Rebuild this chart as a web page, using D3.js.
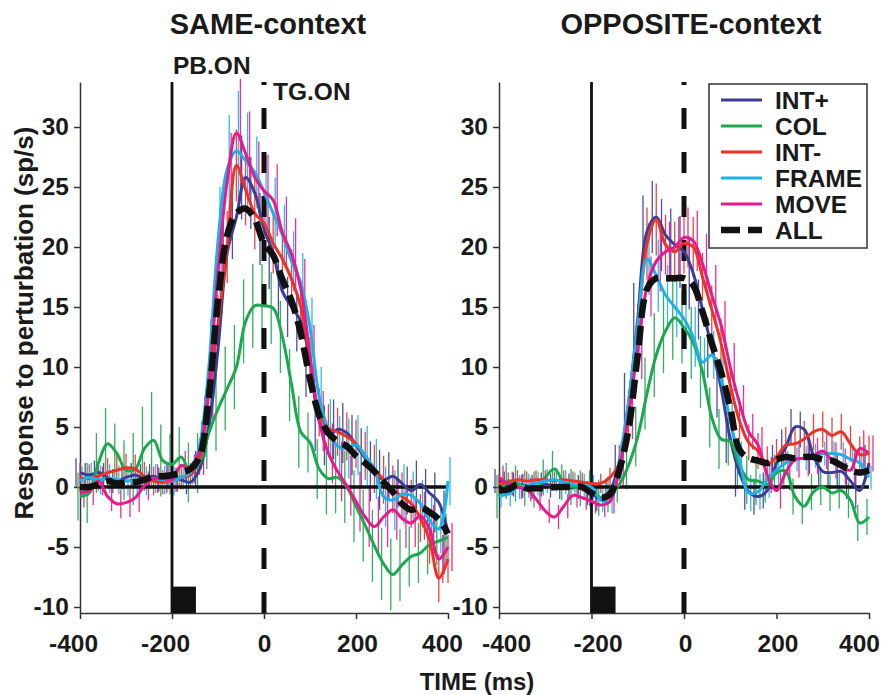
<!DOCTYPE html>
<html><head><meta charset="utf-8">
<script src="https://cdn.jsdelivr.net/npm/d3@7/dist/d3.min.js"></script>
<style>
body{margin:0;background:#fff;}
svg{display:block;font-family:"Liberation Sans",Arial,Helvetica,sans-serif;font-weight:bold;}
</style>
</head><body>
<svg id="chart" width="885" height="695"></svg>
<script>
// ---------- DATA ----------
const timeMs = [-400,-380,-360,-340,-320,-300,-280,-260,-240,-220,-200,-180,-160,-140,-120,-100,-80,-60,-40,-20,0,20,40,60,80,100,120,140,160,180,200,220,240,260,280,300,320,340,360,380,400];
const seriesNames = ["INT+","COL","INT-","FRAME","MOVE","ALL"];
const seriesColors = ["#3b3c98","#1ba84e","#ec3127","#1cb2e8","#e8198c","#111111"];
const panelTitles = ["SAME-context","OPPOSITE-context"];
const xTickValues = [-400,-200,0,200,400];
const yTickValues = [-10,-5,0,5,10,15,20,25,30];
const eventLabels = ["PB.ON","TG.ON"];
const axisTitleX = "TIME (ms)";
const axisTitleY = "Response to perturbation (sp/s)";
const stimulusBar = {start:-200, end:-148, top:-8.3};

// SAME-context
const sameIntPlus = [1.2,1.0,1.2,0.8,0.5,0.8,1.0,0.7,0.9,0.6,0.8,0.6,0.4,1.5,5,11.5,19.5,22.5,25.8,24.5,21.5,19.5,16.3,15,13.8,10.5,5.5,4.3,4.8,4.5,3.5,2.4,1.3,0.6,0.9,0.3,-0.3,0.2,-0.5,-1.3,-3.8];
const sameCol     = [-0.8,-0.5,2,3.6,2.8,1.4,1.5,3.2,3.9,2.2,1.9,2.5,1.2,2,4.5,6.5,8.2,10,13.8,15.1,15.1,14.9,12.5,8.5,4.6,3.7,1.5,0.7,0.8,0,-1.6,-3.2,-4.9,-6.4,-7.3,-6.5,-5.8,-5.5,-4.8,-4.5,-4.2];
const sameIntMinus= [0.8,0.7,0.9,1.2,1.4,1.6,1.5,0.9,0.5,0.4,0.5,0.8,1.0,2.5,8,13.5,20,26.8,24.8,22.8,22,20.3,19,17.3,15,10.5,6.2,4.9,4.6,4.2,3.6,2.6,1.5,0.6,-0.2,-0.8,-1.4,-2.6,-4.4,-7.6,-6];
const sameFrame   = [0.5,0.8,0.6,0.7,0.6,0.5,0.6,0.5,0.7,0.6,0.5,0.8,1.2,3.5,10,20.5,26.5,28,27.2,26.2,24.6,22.8,21,18.8,17,13.3,7.5,4.8,3.4,3.2,3.5,2.6,1.5,-0.8,-1.1,-0.6,-0.7,-1.4,-2.8,-3.5,0.5];
const sameMove    = [-0.5,-0.3,0.5,-0.8,-1.4,-1.3,-0.9,0.1,0.7,0.7,0.6,1.8,1.5,3,8.5,18,25.5,29.5,27.8,25.8,24.7,23.9,21.2,19.4,16.5,11,5.5,2.8,1.3,0.1,-1.2,-2.5,-3.3,-2.5,-1.9,-2.6,-3.0,-2.4,-3.5,-6,-5];
const sameAll     = [0,0,0.2,0.5,0.3,0.4,0.4,0.6,0.9,0.9,1.0,1.2,1.5,2.5,7.5,15.5,21,22.8,23.2,22.3,20.3,19.3,17.3,15.5,12.8,9,6,4.5,3.8,3.4,2.6,2,1.3,0.4,-0.4,-1.4,-1.9,-1.7,-2.1,-2.7,-3.9];

const sameErrIntPlus = [1.2,1.0,1.0,1.2,1.0,1.0,1.0,1.2,1.0,1.0,1.0,1.0,1.0,1.5,2.5,3.5,3.5,3.5,3.5,3.0,3.0,3.0,2.5,2.5,2.5,3.0,2.5,2.5,2.5,2.5,2.5,2.5,2.5,2.5,2.0,2.0,2.0,2.0,2.0,2.5,3.5];
const sameErrCol     = [2.0,2.5,2.5,3.0,2.5,2.5,3.0,3.5,4.0,3.0,2.5,2.5,2.5,2.5,3.0,3.5,3.5,3.5,3.5,3.5,3.5,3.0,3.0,3.0,3.0,2.5,2.5,3.0,3.0,3.0,3.0,3.0,3.0,3.0,3.0,3.0,2.5,2.5,2.5,2.0,2.0];
const sameErrIntMinus= [1.2,1.2,1.2,1.2,1.5,1.2,1.2,1.2,1.2,1.0,1.0,1.0,1.0,1.5,2.0,2.5,3.0,3.0,3.0,3.0,2.5,2.5,2.5,2.5,2.0,2.0,2.0,2.0,2.0,2.0,2.0,2.0,2.0,2.0,2.0,2.0,2.0,2.0,2.0,2.0,2.0];
const sameErrFrame   = [1.2,1.2,1.2,1.2,1.2,1.2,1.2,1.2,1.2,1.2,1.2,1.0,1.0,2.0,4.0,4.5,4.5,5.0,4.0,3.0,3.0,3.0,2.5,2.5,2.5,2.5,2.5,2.5,2.5,2.5,2.5,2.5,2.5,2.5,2.5,2.5,2.0,2.0,2.0,2.0,2.0];
const sameErrMove    = [1.2,1.2,1.2,1.2,1.2,1.2,1.2,1.2,1.2,1.2,1.0,1.2,1.2,2.0,3.0,3.5,4.0,4.5,3.5,3.0,3.0,3.0,3.0,3.0,2.5,2.5,2.5,2.5,2.5,2.5,2.5,2.5,2.5,2.5,2.5,2.5,2.0,2.0,2.0,2.0,2.0];

// OPPOSITE-context
const oppIntPlus  = [0.5,0.3,0.2,0.1,0,0.2,0.1,0,0.1,0,-0.5,-1.0,-0.3,2,7,14,21.3,22.5,21,20.2,19.6,17.8,14.8,11.6,8.3,4,1.2,-0.4,-0.8,-0.3,2,3.3,5,4.8,2.6,1.3,1.2,1.3,0.5,-0.3,2];
const oppCol      = [-0.8,0.5,0.3,-0.1,-0.2,0.8,1.5,0.4,0,-0.1,-0.1,-0.9,-0.6,0.2,1.8,4.2,7.8,11,13,14.1,13.3,12,9.6,5.8,4.0,3.8,1.8,0.6,0.5,0.2,1.2,1.3,-0.8,-1.6,-0.4,0,-0.5,-0.3,-1.1,-3.0,-2.5];
const oppIntMinus = [0.3,0.4,0.6,0.5,0.6,0.6,0.5,0.6,0.5,0.4,0.3,0.3,0.8,2,6,12.8,20.3,22.3,20.2,19.6,20.3,20,17.5,14.8,12,8.5,5.5,3.7,3.0,1.9,2.5,3.5,3.6,4.0,4.6,4.8,4.3,4.6,3.6,2.7,2.8];
const oppFrame    = [-0.7,-0.6,0,0.1,0.3,0.5,0.6,0.4,0.2,0.1,0,-1.1,-1.2,2.2,7,13.5,19,17.6,16,15,14,12.5,10.4,11,9,5.5,2.3,-0.5,-0.4,0.6,1.4,2,2.3,2.4,2.6,2.8,2.8,2.7,2.3,2.0,0.8];
const oppMove     = [0.8,0.3,0,-0.2,-1.0,-2,-2.5,-1.6,-0.7,-0.9,-1.2,-1.5,-1.2,1.5,6,11.5,16.7,18.8,19.6,20,20.8,20.5,18.6,16,13.5,10,7,4.6,3.5,1,-0.3,1.2,2.3,2.4,2.6,3,2.2,1.7,1.4,3.2,2.8];
const oppAll      = [-0.3,-0.2,0.2,-0.1,-0.1,-0.1,0,0,0,0,-0.5,-0.9,-0.6,1.4,4.8,11,16.5,17.4,17.4,17.4,17.4,16.8,14.6,12,9.6,6.6,3.1,2.4,2.2,2.0,2.3,2.5,2.4,2.5,2.5,2.3,2.2,1.8,1.4,1.2,1.4];

const oppErrIntPlus  = [1.0,1.0,1.0,1.0,1.0,1.0,1.0,1.0,1.0,1.0,1.0,1.0,1.0,1.5,2.5,3.0,3.0,3.0,3.0,3.0,3.0,3.0,2.5,2.5,2.5,2.0,2.0,1.5,1.5,1.5,1.5,1.5,1.5,1.5,1.5,1.5,1.5,1.5,1.5,1.5,1.5];
const oppErrCol      = [1.8,1.5,1.5,1.5,1.5,1.5,1.5,1.5,1.5,1.5,1.5,1.5,1.5,1.5,2.0,2.5,3.0,3.5,3.5,3.5,3.0,3.0,3.0,2.5,2.5,2.0,2.0,2.0,2.0,1.5,1.5,1.5,1.5,1.5,1.5,1.5,1.5,1.5,1.5,1.5,1.5];
const oppErrIntMinus = [0.8,0.8,0.8,0.8,0.8,0.8,0.8,0.8,0.8,0.8,0.8,0.8,0.8,1.5,2.0,2.5,3.0,3.0,2.5,2.5,2.5,2.5,2.0,2.0,2.0,1.5,1.5,1.5,1.5,1.5,1.5,1.5,1.5,1.5,1.5,1.5,1.5,1.5,1.5,1.5,1.5];
const oppErrFrame    = [1.0,1.0,1.0,1.0,1.0,1.0,1.0,1.0,1.0,1.0,1.0,1.0,1.0,1.5,2.0,2.5,3.0,3.0,2.5,2.5,2.5,2.5,2.0,2.0,2.0,1.5,1.5,1.5,1.5,1.5,1.5,1.0,1.0,1.0,1.0,1.0,1.0,1.0,1.0,1.0,1.0];
const oppErrMove     = [1.0,1.0,1.0,1.0,1.0,1.0,1.0,1.0,1.0,1.0,1.0,1.0,1.0,1.5,2.0,2.5,2.5,2.5,2.5,2.5,2.5,2.5,2.5,2.5,2.0,2.0,1.5,1.5,1.5,1.5,1.5,1.5,1.5,1.5,1.5,1.5,1.5,1.5,1.5,1.5,1.5];

// ---------- DRAW ----------
const svg = d3.select("#chart");
svg.append("rect").attr("width",885).attr("height",695).attr("fill","#fff");

const y = d3.scaleLinear().domain([-10.5, 33.75]).range([613, 82]);
const FONT = '"Liberation Sans",Arial,sans-serif';

const panels = [
  {title: panelTitles[0], titleX: 268, x: d3.scaleLinear().domain([-400,400]).range([80,448]),
   series: [sameIntPlus,sameCol,sameIntMinus,sameFrame,sameMove,sameAll],
   errs: [sameErrIntPlus,sameErrCol,sameErrIntMinus,sameErrFrame,sameErrMove],
   tickShift: {"-400":-7,"-200":-7,"0":0,"200":1,"400":-6},
   labels: true, legend: false},
  {title: panelTitles[1], titleX: 691, x: d3.scaleLinear().domain([-400,400]).range([499,869]),
   series: [oppIntPlus,oppCol,oppIntMinus,oppFrame,oppMove,oppAll],
   errs: [oppErrIntPlus,oppErrCol,oppErrIntMinus,oppErrFrame,oppErrMove],
   tickShift: {"-400":7,"-200":6,"0":1,"200":1,"400":-10},
   labels: false, legend: true}
];

const errOffset = [-4,-2,0,2,4];

panels.forEach(p => {
  const g = svg.append("g");
  const x = p.x;

  // axes
  const yAxis = g.append("g").attr("transform",`translate(${x(-400)},0)`)
    .call(d3.axisLeft(y).tickValues(yTickValues).tickFormat(d => String(d))
      .tickSize(6).tickSizeOuter(0).tickPadding(5));
  yAxis.select(".domain").attr("stroke","#333").attr("stroke-width",1.5);
  yAxis.selectAll(".tick line").attr("stroke","#333").attr("stroke-width",1.5);
  yAxis.selectAll(".tick text").attr("font-size",24.5).attr("font-weight","bold").attr("fill","#1a1a1a")
    .attr("font-family",FONT);

  const xAxis = g.append("g").attr("transform",`translate(0,${y(-10.5)})`)
    .call(d3.axisBottom(x).tickValues(xTickValues).tickFormat(d => String(d))
      .tickSize(6).tickSizeOuter(0));
  xAxis.select(".domain").attr("stroke","#333").attr("stroke-width",1.5);
  xAxis.selectAll(".tick line").attr("stroke","#333").attr("stroke-width",1.5);
  xAxis.selectAll(".tick text").attr("font-size",24.5).attr("font-weight","bold").attr("fill","#1a1a1a")
    .attr("font-family",FONT).attr("y",22).attr("dx", d => p.tickShift[String(d)] || 0);

  // title
  g.append("text").attr("x",p.titleX).attr("y",34).attr("text-anchor","middle")
    .attr("font-size",29).attr("fill","#1a1a1a").text(p.title);

  // stimulus bar
  g.append("rect").attr("x",x(stimulusBar.start)).attr("y",y(stimulusBar.top))
    .attr("width",x(stimulusBar.end)-x(stimulusBar.start)).attr("height",y(-10.5)-y(stimulusBar.top))
    .attr("fill","#111");

  // error bars
  p.errs.forEach((err,si) => {
    g.append("g").selectAll("line").data(timeMs).join("line")
      .attr("x1",(t)=>x(t)+errOffset[si]).attr("x2",(t)=>x(t)+errOffset[si])
      .attr("y1",(t,i)=>y(p.series[si][i]+err[i])).attr("y2",(t,i)=>y(p.series[si][i]-err[i]))
      .attr("stroke",seriesColors[si]).attr("stroke-width",1.3).attr("opacity",0.9);
  });

  // PB.ON vertical line
  g.append("line").attr("x1",x(-200)).attr("x2",x(-200)).attr("y1",82).attr("y2",y(-10.5))
    .attr("stroke","#111").attr("stroke-width",2.8);
  // zero line
  g.append("line").attr("x1",x(-400)).attr("x2",x(400)).attr("y1",y(0)).attr("y2",y(0))
    .attr("stroke","#111").attr("stroke-width",3.5);
  // TG.ON dashed line (drawn from bottom upward)
  g.append("line").attr("x1",x(0)).attr("x2",x(0)).attr("y1",y(-10.5)).attr("y2",82)
    .attr("stroke","#111").attr("stroke-width",5).attr("stroke-dasharray","21,23");

  // series lines
  const line = d3.line().x((d)=>x(d[0])).y((d)=>y(d[1])).curve(d3.curveCatmullRom.alpha(0.5));
  p.series.forEach((vals,si) => {
    const pts = timeMs.map((t,i)=>[t, vals[i]]);
    const path = g.append("path").datum(pts).attr("d",line).attr("fill","none")
      .attr("stroke",seriesColors[si]).attr("stroke-linejoin","round");
    if (si === 5) path.attr("stroke-width",6.5).attr("stroke-dasharray","19,8");
    else path.attr("stroke-width",3);
  });

  if (p.labels) {
    g.append("text").attr("x",173).attr("y",74).attr("font-size",24.5).attr("fill","#1a1a1a").text(eventLabels[0]);
    g.append("text").attr("x",273).attr("y",100).attr("font-size",24.5).attr("fill","#1a1a1a").text(eventLabels[1]);
  }

  if (p.legend) {
    const lg = g.append("g");
    lg.append("rect").attr("x",709).attr("y",84).attr("width",158).attr("height",164)
      .attr("fill","#fff").attr("stroke","#333").attr("stroke-width",1.5);
    seriesNames.forEach((name,i) => {
      const yy = 100 + i*26;
      const l = lg.append("line").attr("x1",721).attr("x2",762).attr("y1",yy).attr("y2",yy)
        .attr("stroke",seriesColors[i]);
      if (i === 5) l.attr("stroke-width",6.5).attr("stroke-dasharray","19,8");
      else l.attr("stroke-width",3);
      lg.append("text").attr("x",775).attr("y",yy).attr("dy","0.36em").attr("font-size",24.5)
        .attr("fill","#1a1a1a").text(name);
    });
  }
});

// axis titles
svg.append("text").attr("x",477).attr("y",690).attr("text-anchor","middle")
  .attr("font-size",24).attr("fill","#1a1a1a").text(axisTitleX);
svg.append("text").attr("transform","translate(33,323) rotate(-90)").attr("text-anchor","middle")
  .attr("font-size",26).attr("fill","#1a1a1a").text(axisTitleY);
</script>
</body></html>
